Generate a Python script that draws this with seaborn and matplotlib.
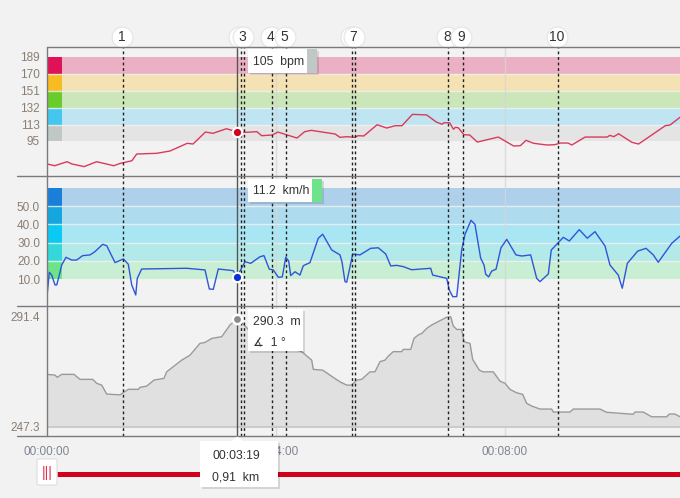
import matplotlib
matplotlib.use('Agg')
import matplotlib.pyplot as plt
import matplotlib.transforms as mtransforms
from matplotlib.patches import Rectangle, FancyBboxPatch, Polygon
import seaborn as sns

# Heart rate (time in s, bpm)
hr_time = [0, 8, 21, 26, 39, 52, 70, 77, 89, 94, 115, 129, 147, 153, 166, 174, 188, 199, 209, 220,
           225, 236, 242, 251, 262, 270, 277, 302, 307, 314, 323, 326, 332, 346, 356, 365, 372, 383, 398, 408,
           414, 416, 422, 426, 428, 431, 437, 443, 451, 473, 489, 496, 502, 510, 524, 532, 538, 546, 550, 564,
           587, 590, 594, 599, 613, 620, 648, 653, 663.4]
hr_bpm = [69, 67, 71.5, 69, 66, 71.5, 67, 69.7, 72.6, 80.1, 80.9, 83.5, 92.1, 91.3, 104.7, 103.3, 108.4, 105, 104.4, 105.1,
          100.6, 101.4, 104.7, 101.7, 98, 105.1, 106.6, 102.5, 98.8, 99.5, 98.8, 100.6, 100.3, 112.9, 109.2, 111.8, 111.8, 124.5, 123.8, 115.9,
          113.4, 115.1, 115.1, 107.8, 110, 109.5, 101.7, 101.4, 93.5, 99.1, 89.1, 89.4, 95.4, 92.1, 90.2, 90.5, 92.4, 92.4, 90.2, 99.1,
          99.1, 101, 99.5, 102.8, 93.2, 91.3, 111.8, 112.6, 121.2]

# Speed (time in s, km/h)
sp_time = [0, 2.4, 4.9, 8.4, 10.2, 12.9, 15.4, 19.9, 25.9, 31.1, 37.4, 45.1, 50.3, 58.4, 62.6, 71.3, 80, 85.2, 88.8, 93,
           94.6, 99.2, 146.4, 165.6, 170.1, 174.3, 179.5, 195.2, 199, 207.5, 213.5, 223.2, 227.4, 233, 237.2, 242.4, 246.6, 250.2, 253.3, 255.4,
           259.9, 265.1, 268.6, 275.6, 284.3, 288.9, 298.4, 307.1, 309.2, 312.3, 314.1, 320.4, 328, 339.2, 347.2, 355, 360.2, 366.5, 373.4, 382.2,
           402.1, 404.2, 418.9, 421.6, 425.2, 429.4, 434.6, 438.1, 444.4, 448.5, 454.5, 458, 459.8, 462.9, 466.1, 470.6, 475.8, 481.8, 491.5, 497.5,
           506.9, 513.2, 516.7, 525.4, 528.5, 541.1, 547.4, 557.8, 566.2, 574.3, 584.8, 590, 598.7, 602.9, 608.2, 619.1, 627.8, 635.4, 640.6, 654.7,
           663.4]
sp_kmh = [0.5, 13.8, 12.3, 6.9, 6.9, 12.3, 17.8, 22, 20.5, 20.5, 22.9, 23.3, 25.1, 29.1, 28.3, 19.1, 21.1, 18.2, 6.9, 1.4,
          10.5, 15.6, 16, 15.1, 4.7, 4.5, 15.6, 14.7, 11.2, 19.6, 18.7, 22.3, 22.9, 15.5, 15.1, 11.1, 11.3, 22, 20, 12,
          14.1, 12.3, 17.4, 19.1, 32.4, 34.6, 26, 23.3, 19.4, 8.7, 8.4, 23.8, 23.3, 26.9, 27.2, 23.8, 17.3, 17.6, 16.9, 15.2,
          16, 12.3, 10.5, 4.2, 0.5, 0.5, 26, 34.6, 42.2, 40, 21.5, 17.8, 12.7, 11.3, 14.5, 15.5, 27.2, 31.8, 23.3, 22.7,
          23.3, 10.5, 8.7, 12.9, 26, 32.9, 30.9, 37.1, 32.4, 36, 28.2, 17.8, 12.3, 5.1, 18.7, 25.4, 26.9, 23.3, 19.3, 29.6,
          33.6]

# Altitude (time in s, m)
alt_time = [0, 8.4, 10.8, 15.4, 28.3, 34.6, 47.9, 52.1, 57.3, 62.6, 76.5, 85.2, 95.7, 97.5, 104.5, 112.1, 122.6, 125.4, 132.4, 141.2,
            149.9, 160.3, 165.6, 172.6, 183.1, 191.8, 199, 205.7, 211, 228.5, 249.4, 266.9, 277.4, 279.1, 288.9, 300, 307.1, 314.1, 319.3, 324.6,
            329.8, 338.5, 343.7, 349, 354.2, 357.7, 362.9, 371.7, 373.4, 381.2, 384.6, 389.1, 392.7, 397.9, 403.2, 418.9, 423.1, 425.8, 429.4, 434.6,
            437, 443.3, 446.1, 453.1, 457.2, 467.7, 474.7, 480, 485.2, 492.2, 498.5, 502.7, 508, 516.7, 528.9, 530.6, 548.1, 551.6, 579.5, 586.6,
            614.4, 616.2, 624.9, 633.7, 649.4, 652.2, 658.1, 663.4]
alt_m = [268.3, 268, 267.1, 268.3, 268.3, 266.3, 266.3, 264.7, 264, 260.4, 260.1, 262.3, 262.3, 263.1, 263.6, 266, 266.7, 269.3, 271.4, 274,
         276, 280.7, 281.1, 282.7, 283.4, 288.1, 290.3, 288.5, 286.3, 283.7, 279.6, 277.4, 274, 270.3, 270, 267.1, 265.3, 264, 264, 266,
         266.3, 269.3, 269.3, 273.4, 274, 275.6, 277.4, 277.4, 278.3, 278.3, 282.7, 284.1, 284.7, 286.7, 288.1, 291.2, 291.4, 287.7, 286.3, 286.3,
         281.4, 280.7, 274.3, 270, 269.3, 269.3, 265.6, 264.7, 262.3, 260.9, 260.3, 256.7, 255.6, 254.4, 254.4, 253.2, 253.2, 254.4, 254.4, 253.1,
         252.3, 253.2, 253.2, 251.3, 251.3, 252.4, 252.4, 251.3]
alt_min, alt_max = 247.3, 291.4

# Zones
hr_zones = [95, 113, 132, 151, 170, 189]
hr_zone_colors = ['#c0c8c6', '#45c6ef', '#6acb2c', '#f7bc22', '#df1158']
hr_band_colors = ['#e4e4e4', '#bfe4f2', '#cbe6b9', '#f4e2b5', '#ebb0c3']
sp_zones = [10, 20, 30, 40, 50, 60]
sp_zone_colors = ['#6de38a', '#35d8da', '#0bc9f5', '#15a6e0', '#1a7fd8']
sp_band_colors = ['#c8eed3', '#b3e9e8', '#a9e6f4', '#aedcee', '#aed0ea']

# Laps and cursor
lap_times = [79.6, 203, 206.5, 235.8, 250.5, 319.6, 322.8, 420.5, 435.6, 535.8]
lap_labels = ['1', '2', '3', '4', '5', '6', '7', '8', '9', '10']
cursor_time = 199
cursor_dist = '0,91'
cursor_slope = 1
x_ticks = [0, 240, 480]

sns.set_style('white', rc={'axes.facecolor': '#f2f2f2', 'figure.facecolor': '#f2f2f2'})
plt.rcParams['font.family'] = ['Liberation Sans', 'DejaVu Sans']

W, H = 680, 498
fig = plt.figure(figsize=(W / 100, H / 100), dpi=100)


def px_axes(top, bottom):
    return fig.add_axes([47 / W, 1 - bottom / H, 1 - 47 / W, (bottom - top) / H])


ax_hr = px_axes(47, 176)
ax_sp = px_axes(176, 306)
ax_alt = px_axes(306, 436)
axes = [ax_hr, ax_sp, ax_alt]
label_col = '#8a7e72'

for ax in axes:
    for s in ax.spines.values():
        s.set_visible(False)
    ax.set_xlim(0, 663.4)
    ax.tick_params(length=0, pad=5, labelsize=8.5, labelcolor=label_col)

# zone bands
def draw_zones(ax, zones, cols, bands):
    for lo, hi, c, bc in zip(zones[:-1], zones[1:], cols, bands):
        ax.axhspan(lo, hi, color=bc, lw=0, zorder=0.2)
        ax.axhspan(lo, hi, xmax=15 / 633, color=c, lw=0, zorder=0.3)
    for z in zones[1:-1]:
        ax.axhline(z, color='#f2f2f2', lw=1, alpha=0.8, zorder=0.4)

draw_zones(ax_hr, hr_zones, hr_zone_colors, hr_band_colors)
draw_zones(ax_sp, sp_zones, sp_zone_colors, sp_band_colors)

for ax in axes:
    for t in x_ticks[1:]:
        ax.axvline(t, color='#d6d6d6', lw=1, alpha=0.8, zorder=0.5)

# series
sns.lineplot(x=hr_time, y=hr_bpm, ax=ax_hr, color='#d93a5c', lw=1, estimator=None, zorder=3)
sns.lineplot(x=sp_time, y=sp_kmh, ax=ax_sp, color='#2f55da', lw=1, estimator=None, zorder=3)
sns.lineplot(x=alt_time, y=alt_m, ax=ax_alt, color='#9a9a9a', lw=1, estimator=None, zorder=3)
ax_alt.fill_between(alt_time, alt_m, alt_min, color='#e0e0e0', lw=0, zorder=1)
ax_alt.axhline(alt_min, color='#c6c6c6', lw=1.2, zorder=1.5)

ax_hr.set_ylim(55.5, 199.9)
ax_sp.set_ylim(-4.6, 66.4)
ax_alt.set_ylim(243.6, 295.7)
ax_hr.set_yticks(hr_zones)
ax_sp.set_yticks(sp_zones[:-1])
ax_sp.set_yticklabels([f'{v:.1f}' for v in sp_zones[:-1]])
ax_alt.set_yticks([alt_min, alt_max])
ax_alt.set_yticklabels([f'{alt_min:.1f}', f'{alt_max:.1f}'])
for ax in [ax_hr, ax_sp]:
    ax.set_xticks([])
ax_alt.set_xticks(x_ticks)
ax_alt.set_xticklabels([f'{t // 3600:02d}:{t // 60 % 60:02d}:{t % 60:02d}' for t in x_ticks],
                       color='#7f8592')
ax_alt.tick_params(axis='x', pad=7)
for ax in axes:
    ax.set_xlabel('')
    ax.set_ylabel('')

# lap lines + cursor
for ax in axes:
    for t in lap_times:
        ax.axvline(t, color='#222222', lw=1, ls=(0, (2, 2)), zorder=4)
    ax.axvline(cursor_time, color='#555555', lw=1, zorder=4)

ci_hr = hr_bpm[hr_time.index(cursor_time)]
ci_sp = sp_kmh[sp_time.index(cursor_time)]
ci_alt = alt_m[alt_time.index(cursor_time)]
ax_hr.scatter([cursor_time], [ci_hr], s=45, color='#d0021b', edgecolor='white', lw=1.5, zorder=6)
ax_sp.scatter([cursor_time], [ci_sp], s=45, color='#0a30d8', edgecolor='white', lw=1.5, zorder=6)
ax_alt.scatter([cursor_time], [ci_alt], s=45, color='#8a8a8a', edgecolor='white', lw=1.8, zorder=6)

# lap number bubbles
blend = mtransforms.blended_transform_factory(ax_hr.transData, ax_hr.transAxes)
yc = 1 + 10 / 129
for k, (t, lab) in enumerate(zip(lap_times, lap_labels)):
    tx = t - 1.5
    ax_hr.plot([tx], [yc], marker='o', ms=15, mfc='white', mec='#e4e4e4', mew=0.8,
               transform=blend, clip_on=False, zorder=20 + 2 * k)
    ax_hr.text(tx, yc, lab, transform=blend, ha='center', va='center', fontsize=10,
               color='#333333', zorder=21 + 2 * k, clip_on=False)

# overlay for frame lines, tooltips and slider
ov = fig.add_axes([0, 0, 1, 1], zorder=10)
ov.set_xlim(0, W)
ov.set_ylim(H, 0)
ov.axis('off')
ov.patch.set_alpha(0)

frame = '#7a7a7a'
ov.plot([47, 680], [47, 47], color=frame, lw=1, zorder=1)
for y in [176, 306, 436]:
    ov.plot([17, 680], [y, y], color=frame, lw=1, zorder=1)
ov.plot([47, 47], [47, 436], color=frame, lw=1, zorder=1)


def tooltip(x0, y0, w, h, swatch=None):
    ov.add_patch(Rectangle((x0 + 1.5, y0 + 1.5), w, h, color='black', alpha=0.12, lw=0, zorder=5))
    ov.add_patch(Rectangle((x0, y0), w, h, facecolor='white', lw=0, zorder=5))
    if swatch:
        ov.add_patch(Rectangle((x0 + w - 10, y0), 10, h, facecolor=swatch, lw=0, zorder=5))


def zone_color(v, zones, cols):
    for lo, hi, c in zip(zones[:-1], zones[1:], cols):
        if lo <= v < hi:
            return c
    return cols[0]


tip_col = '#333333'
tip_fs = 8.8
tooltip(248, 49, 69, 24, zone_color(ci_hr, hr_zones, hr_zone_colors))
ov.text(253, 61.5, f'{ci_hr:.0f}  bpm', va='center', fontsize=tip_fs, color=tip_col, zorder=6)
tooltip(248, 179, 74, 23, zone_color(ci_sp, sp_zones, sp_zone_colors))
ov.text(253, 191, f'{ci_sp:.1f}  km/h', va='center', fontsize=tip_fs, color=tip_col, zorder=6)
tooltip(248, 309, 55, 42)
ov.text(253, 321.5, f'{ci_alt:.1f}  m', va='center', fontsize=tip_fs, color=tip_col, zorder=6)
ov.text(253, 342, f'\u2221  {cursor_slope} \u00b0', va='center', fontsize=tip_fs, color=tip_col, zorder=6)

# slider
ov.plot([57, 680], [474, 474], color='#d0021b', lw=3.6, solid_capstyle='butt', zorder=2)
ov.add_patch(FancyBboxPatch((37, 459), 20, 26, boxstyle='round,pad=0,rounding_size=2',
                            fc='white', ec='#dddddd', lw=0.8, zorder=3))
ov.text(47, 472.5, '|||', ha='center', va='center', fontsize=10, color='#e0304a', zorder=4)

# bottom time tooltip
ov.add_patch(Rectangle((201.5, 442.5), 78, 46, color='black', alpha=0.12, lw=0, zorder=5))
ov.add_patch(Rectangle((200, 441), 78, 46, facecolor='white', lw=0, zorder=5))
ov.add_patch(Polygon([(231, 441.5), (237.3, 436.5), (243.6, 441.5)], closed=True,
                     facecolor='white', lw=0, zorder=5))
mm, ss = divmod(cursor_time, 60)
ov.text(236, 456, f'00:{mm:02d}:{ss:02d}', ha='center', va='center', fontsize=tip_fs, color=tip_col, zorder=6)
ov.text(236, 477, f'{cursor_dist}  km', ha='center', va='center', fontsize=tip_fs, color=tip_col, zorder=6)

fig.savefig('out.png', dpi=100, facecolor=fig.get_facecolor())
